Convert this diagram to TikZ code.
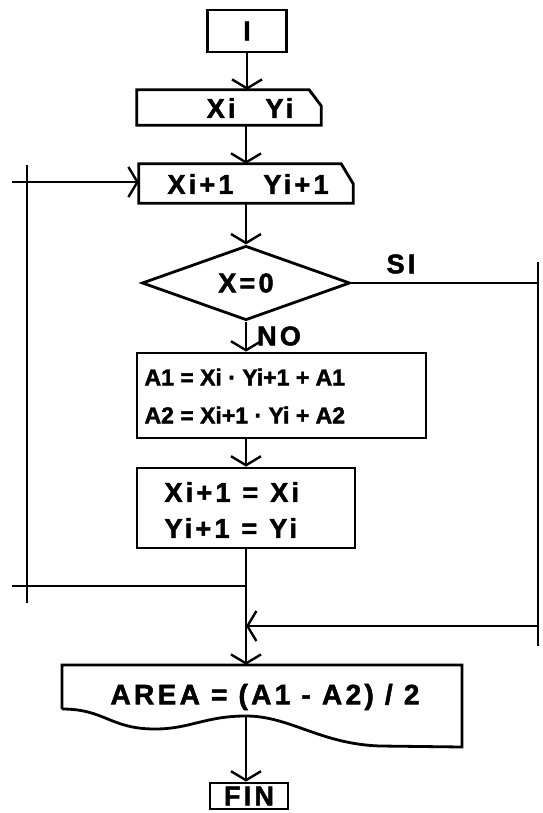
\documentclass[tikz,border=0pt]{standalone}
\usepackage{fontspec}
\newfontfamily\hand{Liberation Sans Bold}[LetterSpace=12,FakeBold=1.8]
\usetikzlibrary{arrows.meta,shapes.geometric}
\tikzset{
  box/.style={draw,line width=2.8pt,inner sep=0pt},
  hid/.style={inner sep=0pt},
  ln/.style={line width=2.6pt},
  arr/.style={line width=2.6pt,-{Straight Barb[length=9pt,width=30pt,line width=2.4pt]}},
}
\begin{document}
\begin{tikzpicture}[x=1pt,y=-1pt,font=\hand\fontsize{27}{30}\selectfont]
  \useasboundingbox (0,0) rectangle (542,813);
  % ---- start and reads
  \node[box,minimum width=79pt,minimum height=42pt] (start) at (247,31) {I};
  \node[hid,minimum width=184pt,minimum height=35pt] (readi) at (229,107.5) {};
  \draw[ln,line width=2.8pt] (readi.south west) -- (readi.north west) -- ([xshift=-12pt]readi.north east)
    -- ([yshift=-16pt]readi.north east) -- (readi.south east) -- cycle;
  \node (readit) at (250,108) {Xi\hspace{30pt}Yi};
  \node[hid,minimum width=214pt,minimum height=39pt] (readn) at (246,183.5) {};
  \draw[ln,line width=2.8pt] (readn.south west) -- (readn.north west) -- ([xshift=-12pt]readn.north east)
    -- ([yshift=-20pt]readn.north east) -- (readn.south east) -- cycle;
  \node (readnt) at (248,184) {Xi+1\hspace{30pt}Yi+1};
  % ---- test
  \node[box,diamond,minimum width=208pt,minimum height=72pt] (test) at (246,283) {X=0};
  \node (lsi) at (401,264) {SI};
  \node (lno) at (279,336) {NO};
  % ---- computations
  \node[box,minimum width=289pt,minimum height=85pt] (calc) at (281.5,395.5) {};
  \node[anchor=west,align=left,font=\hand\fontsize{23}{38}\selectfont\addfontfeature{LetterSpace=0}]
    (calct) at (141,396) {A1 = Xi · Yi+1 + A1\\A2 = Xi+1 · Yi + A2};
  \node[box,minimum width=218pt,minimum height=80pt] (swap) at (246,508) {};
  \node[anchor=west,align=left,font=\hand\fontsize{27}{36}\selectfont] (swapt) at (161,510)
    {Xi+1\hspace{12pt}=\hspace{12pt}Xi\\Yi+1\hspace{12pt}=\hspace{12pt}Yi};
  % ---- result and end
  \node[hid,minimum width=400pt,minimum height=44pt] (area) at (262,687) {};
  \draw[line width=2.8pt] (62,709) -- (62,665) -- (462,665) -- (462,747)
    -- (380,746) .. controls (320,744) and (290,716) .. (246,716)
    .. controls (205,716) and (190,729) .. (155,729)
    .. controls (110,729) and (105,709) .. (62,709);
  \node[font=\hand\fontsize{28}{30}\selectfont] (areat) at (265,697) {AREA = (A1 - A2) / 2};
  \coordinate (areab) at (246,716);
  \node[box,minimum width=78pt,minimum height=26pt] (fin) at (249,796) {FIN};
  % ---- loop points
  \coordinate (jl) at (246,586);
  \coordinate (jr) at (246,626);
  \coordinate (lbot) at (27,603);
  \coordinate (ltop) at (27,165);
  \coordinate (lend) at (12,586);
  \coordinate (lin) at (12,182);
  \coordinate (rtop) at (538,262);
  \coordinate (rbot) at (538,646);
  % ---- connectors
  \draw[arr] (start.south) -- (start.south |- readi.north);
  \draw[arr] (readn.north |- readi.south) -- (readn.north);
  \draw[arr] (readn.south) -- (test.north);
  \draw[arr] (test.south) -- (test.south |- calc.north);
  \draw[arr] (swap.north |- calc.south) -- (swap.north);
  \draw[arr] (swap.south) -- (swap.south |- area.north);
  \draw[arr] (areab) -- (areab |- fin.north);
  % back loop (left)
  \draw[ln] (jl) -- (lend);
  \draw[ln] (lbot) -- (ltop);
  \draw[arr] (lin) -- (lin -| readn.west);
  % exit branch (right)
  \draw[ln] (test.east) -- (test.east -| rtop);
  \draw[ln] (rtop) -- (rbot);
  \draw[arr] (rtop |- jr) -- (jr);
\end{tikzpicture}
\end{document}
